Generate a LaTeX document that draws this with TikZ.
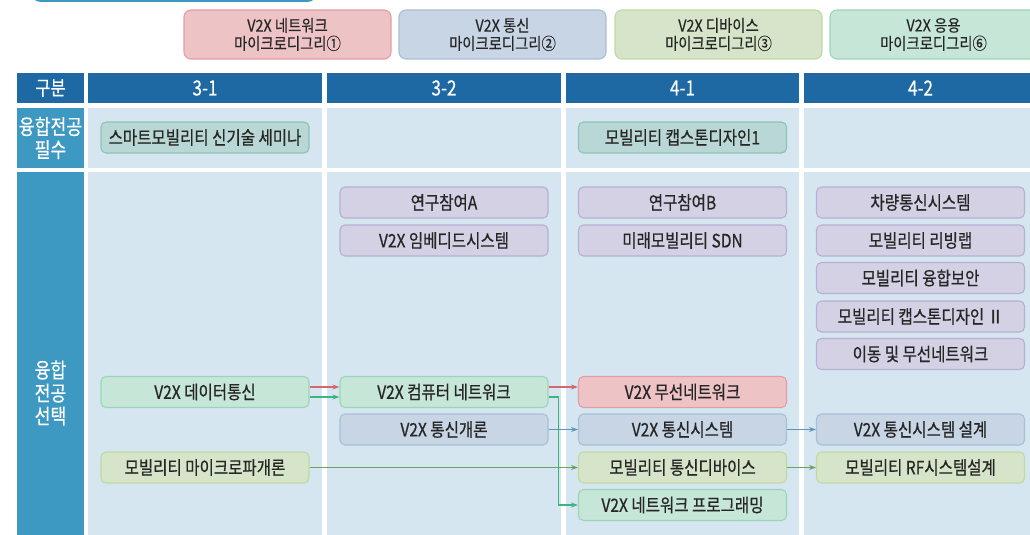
\documentclass[tikz,border=0pt]{standalone}
\usepackage{fontspec}
\newfontfamily\kr[FakeStretch=0.84,FakeBold=0.6]{Noto Sans CJK KR}
\newfontfamily\krw[FakeStretch=0.87,FakeBold=0.3]{Noto Sans CJK KR}
\newfontfamily\krh[FakeStretch=0.82,FakeBold=0.4]{Noto Sans CJK KR}
\usetikzlibrary{arrows.meta}
\definecolor{hdr}{HTML}{1E69A4}
\definecolor{side}{HTML}{3D98C2}
\definecolor{cell}{HTML}{D5E6F0}
\definecolor{txt}{HTML}{262626}
\definecolor{purF}{HTML}{D4D1E5}\definecolor{purD}{HTML}{B6B0D4}
\definecolor{tealF}{HTML}{B9D7D4}\definecolor{tealD}{HTML}{8DC3B6}
\definecolor{mintF}{HTML}{C6E6D7}\definecolor{mintD}{HTML}{9BD5B9}
\definecolor{redF}{HTML}{EEC3C5}\definecolor{redD}{HTML}{E39EA3}
\definecolor{bluF}{HTML}{C7D5E5}\definecolor{bluD}{HTML}{A8BFD8}
\definecolor{ylwF}{HTML}{D6E5C9}\definecolor{ylwD}{HTML}{BFD9A4}
\definecolor{aRed}{HTML}{D9666E}
\definecolor{aMint}{HTML}{3DB37F}
\definecolor{aBlue}{HTML}{5B93BC}
\definecolor{aOlive}{HTML}{6AA35A}
\tikzset{
  box/.style={draw, rounded corners=5pt, line width=1.1pt, minimum width=208pt,
    minimum height=31pt, inner sep=0pt, text=txt,
    font={\fontsize{18.5}{21}\selectfont\kr}},
  pur/.style={box, fill=purF, draw=purD},
  teal/.style={box, fill=tealF, draw=tealD},
  mint/.style={box, fill=mintF, draw=mintD},
  redb/.style={box, fill=redF, draw=redD},
  blub/.style={box, fill=bluF, draw=bluD},
  ylw/.style={box, fill=ylwF, draw=ylwD},
  legend/.style={draw, rounded corners=7pt, line width=1.1pt, minimum width=207pt,
    minimum height=49pt, inner sep=0pt, text=txt, align=center,
    font={\fontsize{16.5}{18}\selectfont\krw}},
  hdrtext/.style={text=white, font={\fontsize{21}{22}\selectfont\krh}, align=center},
  conn/.style={line width=1.1pt, -{Stealth[length=7pt,width=5pt]}},
}
\begin{document}
\begin{tikzpicture}[x=1pt,y=-1pt]
\useasboundingbox (0,0) rectangle (1030,535);
\clip (0,0) rectangle (1030,535);
% partial title bar at top
\draw[side, line width=1.6pt, rounded corners=8pt] (32,-30) rectangle (316,1);
% legend
\node[legend, fill=redF, draw=redD] (lg1) at (287.5,34.5) {V2X 네트워크\\마이크로디그리①};
\node[legend, fill=bluF, draw=bluD] (lg2) at (502.5,34.5) {V2X 통신\\마이크로디그리②};
\node[legend, fill=ylwF, draw=ylwD] (lg3) at (718.5,34.5) {V2X 디바이스\\마이크로디그리③};
\node[legend, fill=mintF, draw=mintD] (lg4) at (933.5,34.5) {V2X 응용\\마이크로디그리⑥};
% header row
\fill[hdr] (17,73) rectangle (84,103);
\fill[hdr] (88,73) rectangle (322,103);
\fill[hdr] (327,73) rectangle (561,103);
\fill[hdr] (566,73) rectangle (799,103);
\fill[hdr] (804,73) rectangle (1040,103);
\node[hdrtext, font={\fontsize{20}{22}\selectfont\krh}] (h0) at (50.5,88) {구분};
\node[hdrtext] (h1) at (205,88) {3-1};
\node[hdrtext] (h2) at (444,88) {3-2};
\node[hdrtext] (h3) at (682.5,88) {4-1};
\node[hdrtext] (h4) at (920.5,88) {4-2};
% row 2
\fill[side] (17,108) rectangle (84,168);
\fill[cell] (88,108) rectangle (322,168);
\fill[cell] (327,108) rectangle (561,168);
\fill[cell] (566,108) rectangle (799,168);
\fill[cell] (804,108) rectangle (1040,168);
\node[hdrtext, font={\fontsize{21}{23}\selectfont\krh}] (r2) at (50.5,138) {융합전공\\필수};
% row 3
\fill[side] (17,172) rectangle (84,540);
\fill[cell] (88,172) rectangle (322,540);
\fill[cell] (327,172) rectangle (561,540);
\fill[cell] (566,172) rectangle (799,540);
\fill[cell] (804,172) rectangle (1040,540);
\node[hdrtext, font={\fontsize{21}{23}\selectfont\krh}] (r3) at (50.5,393) {융합\\전공\\선택};
% required
\node[teal] (sem) at (205,137.5) {스마트모빌리티 신기술 세미나};
\node[teal] (cap1) at (682.5,137.5) {모빌리티 캡스톤디자인1};
% elective column 3-2
\node[pur] (rsA) at (444,202.5) {연구참여A};
\node[pur] (emb) at (444,240.5) {V2X 임베디드시스템};
% 4-1
\node[pur] (rsB) at (682.5,202.5) {연구참여B};
\node[pur] (sdn) at (682.5,240.5) {미래모빌리티 SDN};
% 4-2
\node[pur] (car) at (920.5,202.5) {차량통신시스템};
\node[pur] (liv) at (920.5,240.5) {모빌리티 리빙랩};
\node[pur] (sec) at (920.5,278) {모빌리티 융합보안};
\node[pur] (cap2) at (920.5,316.5) {모빌리티 캡스톤디자인 Ⅱ};
\node[pur] (mob) at (920.5,354) {이동 및 무선네트워크};
% network / communication tracks
\node[mint] (dat) at (205,392) {V2X 데이터통신};
\node[mint] (cn) at (444,392) {V2X 컴퓨터 네트워크};
\node[redb] (wn) at (682.5,392) {V2X 무선네트워크};
\node[blub] (intro) at (444,429.5) {V2X 통신개론};
\node[blub] (sys) at (682.5,429.5) {V2X 통신시스템};
\node[blub] (sysd) at (920.5,429.5) {V2X 통신시스템 설계};
\node[ylw] (mw) at (205,467.5) {모빌리티 마이크로파개론};
\node[ylw] (dev) at (682.5,467.5) {모빌리티 통신디바이스};
\node[ylw] (rf) at (920.5,467.5) {모빌리티 RF시스템설계};
\node[mint] (prog) at (682.5,505) {V2X 네트워크 프로그래밍};
% connectors
\draw[conn, aRed] ([yshift=5pt]dat.east) -- ([yshift=5pt]cn.west);
\draw[conn, aMint] ([yshift=-5pt]dat.east) -- ([yshift=-5pt]cn.west);
\draw[conn, aRed] ([yshift=5pt]cn.east) -- ([yshift=5pt]wn.west);
\draw[conn, aMint] ([yshift=-5pt]cn.east) -- ++(10,0) |- (prog.west);
\draw[conn, aBlue] (intro.east) -- (sys.west);
\draw[conn, aBlue] (sys.east) -- (sysd.west);
\draw[conn, aOlive] (mw.east) -- (dev.west);
\draw[conn, aOlive] (dev.east) -- (rf.west);
\end{tikzpicture}
\end{document}
